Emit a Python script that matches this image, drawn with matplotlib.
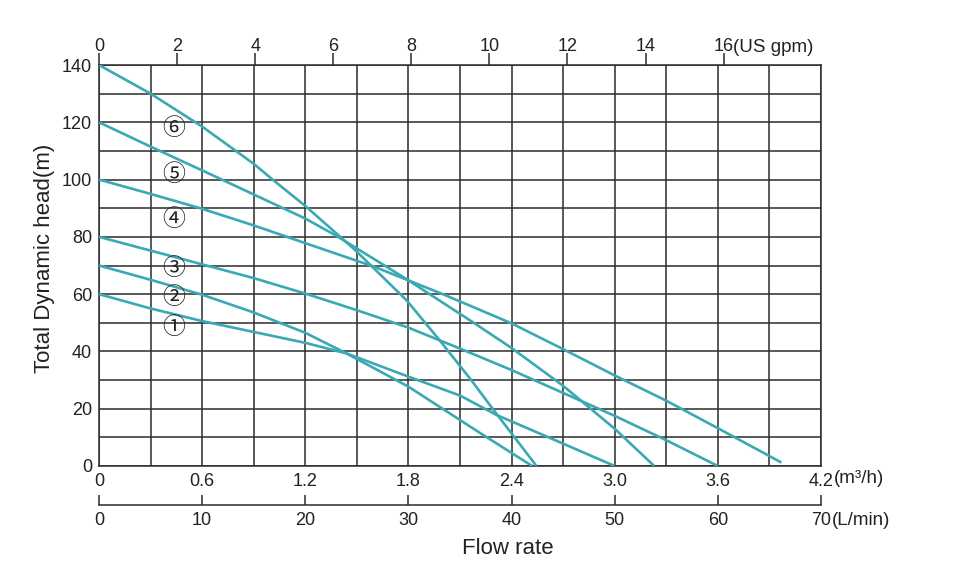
import numpy as np
import matplotlib
matplotlib.use("Agg")
import matplotlib.pyplot as plt

plt.rcParams['font.family'] = ['Liberation Sans', 'DejaVu Sans']

# pump curves, flow in m3/h and head in m
q1 = [0, 0.3, 0.6, 0.9, 1.2, 1.44, 1.8, 2.1, 2.31, 2.7, 3.0]
h1 = [60, 55, 50.6, 46.8, 43, 39.3, 31.2, 24.6, 17.9, 7.8, 0]

q2 = [0, 0.3, 0.6, 0.9, 1.2, 1.44, 1.8, 2.22, 2.52]
h2 = [70, 65, 59.8, 53.6, 46.5, 39.3, 27.7, 11.4, 0]

q3 = [0, 0.3, 0.6, 0.9, 1.2, 1.5, 1.8, 2.1, 2.4, 2.7, 3.0, 3.3, 3.6]
h3 = [80, 75.2, 70.4, 65.6, 60.2, 54.4, 48.3, 41, 33.5, 25.5, 17.5, 9, 0]

q4 = [0, 0.3, 0.6, 0.9, 1.2, 1.6, 2.0, 2.4, 2.7, 3.0, 3.3, 3.6, 3.97]
h4 = [100, 95, 89.8, 84, 77.8, 69.6, 60, 49.8, 40.8, 31.6, 22.8, 13.2, 1.2]

q5 = [0, 0.3, 0.6, 0.9, 1.2, 1.38, 1.79, 2.18, 2.4, 2.7, 3.0, 3.23]
h5 = [120, 111.5, 103.2, 94.8, 86.4, 80.4, 65.2, 50, 41.2, 28, 13, 0]

q6 = [0, 0.3, 0.6, 0.9, 1.01, 1.2, 1.49, 1.79, 1.98, 2.16, 2.31, 2.545]
h6 = [140, 130, 118.5, 105.5, 100, 90.8, 75.4, 57.8, 44, 30.4, 18.4, 0]

curves = [(q1, h1), (q2, h2), (q3, h3), (q4, h4), (q5, h5), (q6, h6)]
curve_names = ['①', '②', '③', '④', '⑤', '⑥']
name_y = [48.5, 58.7, 68.8, 85.9, 101.6, 117.7]

m3h_ticks = [0, 0.6, 1.2, 1.8, 2.4, 3.0, 3.6, 4.2]
m3h_labels = ['0', '0.6', '1.2', '1.8', '2.4', '3.0', '3.6', '4.2']
gpm_ticks = [0, 2, 4, 6, 8, 10, 12, 14, 16]
lpm_ticks = [0, 10, 20, 30, 40, 50, 60, 70]
head_ticks = [0, 20, 40, 60, 80, 100, 120, 140]

GPM = 0.2271  # m3/h per US gpm
teal = '#3aa9b3'
ink = '#222222'
fs = 13

fig = plt.figure(figsize=(9.6, 5.68), dpi=100)
ax = fig.add_axes([99/960, 1-466/568, 722/960, 401/568])
ax.set_xlim(0, 4.2)
ax.set_ylim(0, 140)

ax.set_xticks(m3h_ticks)
ax.set_xticklabels(m3h_labels)
ax.set_xticks(np.arange(0, 4.21, 0.3), minor=True)
ax.set_yticks(head_ticks)
ax.set_yticks(np.arange(0, 141, 10), minor=True)
ax.grid(which='both', color='#2b2b2b', lw=1.1)
ax.tick_params(which='both', length=0, labelsize=fs, colors=ink)
ax.tick_params(axis='x', pad=5)
ax.tick_params(axis='y', pad=5)
for s in ax.spines.values():
    s.set_color('#2b2b2b')
    s.set_linewidth(1.1)

for q, h in curves:
    ax.plot(q, h, color=teal, lw=1.9, solid_capstyle='butt',
            solid_joinstyle='round', zorder=3)

for name, y in zip(curve_names, name_y):
    ax.text(0.436, y, name, ha='center', va='center', fontsize=16.5, color=ink,
            family=['Noto Sans CJK SC', 'DejaVu Sans'])

# top axis in US gpm
top = ax.secondary_xaxis('top', functions=(lambda x: x / GPM, lambda g: g * GPM))
top.set_xticks(gpm_ticks)
top.tick_params(direction='out', length=9, width=1.1, color='#2b2b2b',
                labelsize=fs, labelcolor=ink, pad=-1.5)
top.spines['top'].set_visible(False)

# bottom axis in L/min
bot = ax.secondary_xaxis(-0.0985, functions=(lambda x: x * 1000 / 60, lambda l: l * 60 / 1000))
bot.set_xticks(lpm_ticks)
bot.tick_params(direction='in', length=7.5, width=1.1, color='#2b2b2b',
                labelsize=fs, labelcolor=ink, pad=5)
bot.spines['bottom'].set_color('#2b2b2b')
bot.spines['bottom'].set_linewidth(1.1)

# unit suffixes
ax.annotate('(US gpm)', xy=(16 * GPM, 1), xycoords=('data', 'axes fraction'),
            xytext=(7, 12.5), textcoords='offset points', ha='left', va='center',
            fontsize=fs + 0.5, color=ink)
ax.annotate('(m³/h)', xy=(4.2, 0), xycoords=('data', 'axes fraction'),
            xytext=(9, -9), textcoords='offset points', ha='left', va='center',
            fontsize=fs + 0.5, color=ink)
ax.annotate('(L/min)', xy=(4.2, 0), xycoords=('data', 'axes fraction'),
            xytext=(8, -39), textcoords='offset points', ha='left', va='center',
            fontsize=fs + 0.5, color=ink)

fig.text(45/960, 1-258/568, 'Total Dynamic head(m)', rotation=90,
         ha='center', va='center', fontsize=16, color=ink)
fig.text(508/960, 1-548/568, 'Flow rate', ha='center', va='center',
         fontsize=16, color=ink)

fig.savefig('out.png', dpi=100)
